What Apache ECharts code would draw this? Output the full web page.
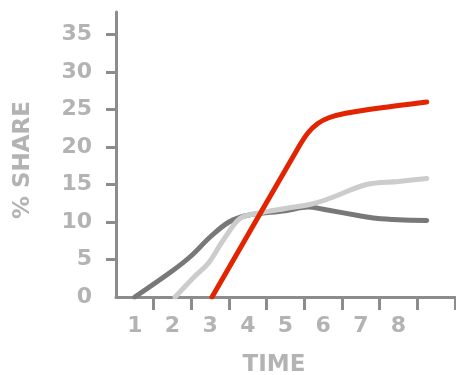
<!DOCTYPE html>
<html><head><meta charset="utf-8">
<script src="https://cdn.jsdelivr.net/npm/echarts@6/dist/echarts.min.js"></script>
<style>html,body{margin:0;padding:0;background:#fff}#c{width:456px;height:375px}</style>
</head><body><div id="c"></div>
<script>
const xLabels = [1, 2, 3, 4, 5, 6, 7, 8];
const xTicks = [1.5, 2.5, 3.5, 4.5, 5.5, 6.5, 7.5, 8.5, 9.5];
const yLabels = [0, 5, 10, 15, 20, 25, 30, 35];
const yTicks = [5, 10, 15, 20, 25, 30, 35];
const darkSeries = [[1,0],[2,3.5],[2.5,5.5],[3,8],[3.5,10],[4,10.9],[5,11.5],[5.6,12],[6,11.7],[7,10.8],[7.4,10.5],[8,10.3],[8.75,10.2]];
const lightSeries = [[2.07,0],[2.6,2.8],[2.95,4.5],[3.35,7.6],[3.8,10.5],[4.3,11.2],[5,11.8],[5.7,12.4],[6.2,13.2],[7.15,15],[8,15.4],[8.75,15.8]];
const redSeries = [[3.05,0],[5.35,20],[5.6,21.9],[5.85,23.1],[6.15,23.9],[6.6,24.5],[7.5,25.2],[8.75,26]];

const font = '"DejaVu Sans", "Liberation Sans", Arial, sans-serif';
const labelColor = '#b3b3b3';
const axisColor = '#8c8c8c';
const chart = echarts.init(document.getElementById('c'), null, {renderer:'canvas'});
chart.setOption({
  animation: false,
  grid: {left:116, right:1, top:12, bottom:78, containLabel:false},
  xAxis: {
    type:'value', min:0.5, max:9.5,
    splitLine:{show:false},
    axisLine:{lineStyle:{color:axisColor, width:3}},
    axisTick:{customValues:xTicks, length:13, lineStyle:{color:axisColor, width:3}},
    axisLabel:{customValues:xLabels, margin:18, color:labelColor, fontFamily:font, fontWeight:'bold', fontSize:22}
  },
  yAxis: {
    type:'value', min:0, max:38,
    splitLine:{show:false},
    axisLine:{show:true, lineStyle:{color:axisColor, width:3}},
    axisTick:{show:true, customValues:yTicks, length:10, lineStyle:{color:axisColor, width:3}},
    axisLabel:{customValues:yLabels, margin:24, color:labelColor, fontFamily:font, fontWeight:'bold', fontSize:22}
  },
  graphic: [
    {type:'text', x:23, y:160, rotation:Math.PI/2, style:{text:'% SHARE', fill:labelColor, font:'bold 23px ' + font, align:'center', verticalAlign:'middle'}},
    {type:'text', x:274, y:365, style:{text:'TIME', fill:labelColor, font:'bold 23px ' + font, align:'center', verticalAlign:'middle'}}
  ],
  series: [
    {type:'line', data:darkSeries, smooth:0.35, showSymbol:false, lineStyle:{color:'#787878', width:5, cap:'round'}, z:2},
    {type:'line', data:lightSeries, smooth:0.35, showSymbol:false, lineStyle:{color:'#cccccc', width:5, cap:'round'}, z:3},
    {type:'line', data:redSeries, smooth:0.3, showSymbol:false, lineStyle:{color:'#e22400', width:5, cap:'round'}, z:4}
  ]
});
</script></body></html>
